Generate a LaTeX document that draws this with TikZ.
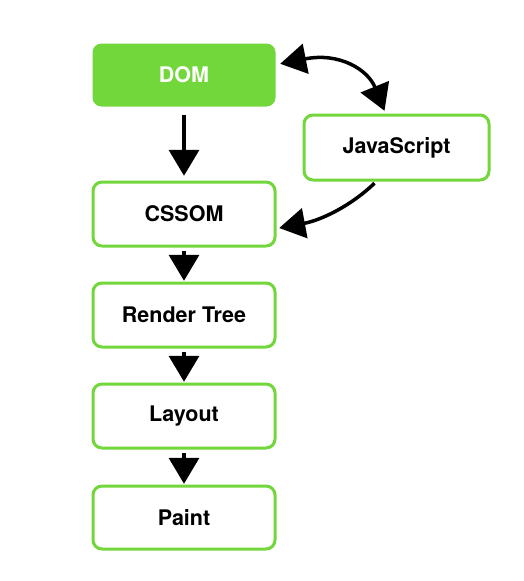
\documentclass[tikz,border=0pt]{standalone}
\usepackage{fontspec}
\setmainfont{TeX Gyre Heros}
\usetikzlibrary{arrows.meta}
\definecolor{domgreen}{HTML}{72D73B}
\begin{document}
\begin{tikzpicture}[x=1pt,y=-1pt,
  box/.style={draw=domgreen,line width=3pt,rounded corners=9pt,fill=white},
  lbl/.style={font=\bfseries\fontsize{21.5}{24}\selectfont},
  arr/.style={line width=3.5pt,-{Triangle[length=26pt,width=30pt]}},
  darr/.style={line width=3.5pt,{Triangle[length=26pt,width=30pt]}-{Triangle[length=26pt,width=30pt]}}]
\useasboundingbox[fill=white] (0,0) rectangle (524,581);
\path[fill=domgreen,rounded corners=9pt] (92.5,43.5) rectangle (275.5,106.5);
\node[lbl,text=white] (dom) at (184,75) {DOM};
\node (domb) at (184,75) [minimum width=182pt,minimum height=62pt] {};
\draw[box] (304,115) rectangle (489,180);
\node[lbl] (js) at (396.5,147.5) [minimum width=185pt,minimum height=65pt] {JavaScript};
\draw[box] (93,182) rectangle (275,246);
\node[lbl] (cssom) at (184,214) [minimum width=182pt,minimum height=64pt] {CSSOM};
\draw[box] (93,283) rectangle (275,347);
\node[lbl] (rt) at (184,315) [minimum width=182pt,minimum height=64pt] {Render Tree};
\draw[box] (93,384) rectangle (275,448);
\node[lbl] (lay) at (184,416) [minimum width=182pt,minimum height=64pt] {Layout};
\draw[box] (93,486) rectangle (275,549);
\node[lbl] (paint) at (184,517.5) [minimum width=182pt,minimum height=63pt] {Paint};
\draw[arr] ([yshift=-9pt]domb.south) -- ([yshift=6pt]cssom.north);
\draw[arr] ([yshift=-5pt]cssom.south) -- ([yshift=2pt]rt.north);
\draw[arr] ([yshift=-5pt]rt.south) -- ([yshift=2pt]lay.north);
\draw[arr] ([yshift=-5pt]lay.south) -- ([yshift=2pt]paint.north);
\draw[darr] ([xshift=5pt,yshift=-20pt]domb.north east) .. controls (340,52) and (368,70) .. ([xshift=-12pt,yshift=4pt]js.north);
\draw[arr] ([xshift=-22pt,yshift=-3pt]js.south) .. controls (352,205) and (322,220) .. ([xshift=4pt,yshift=-14pt]cssom.east);
\end{tikzpicture}
\end{document}
